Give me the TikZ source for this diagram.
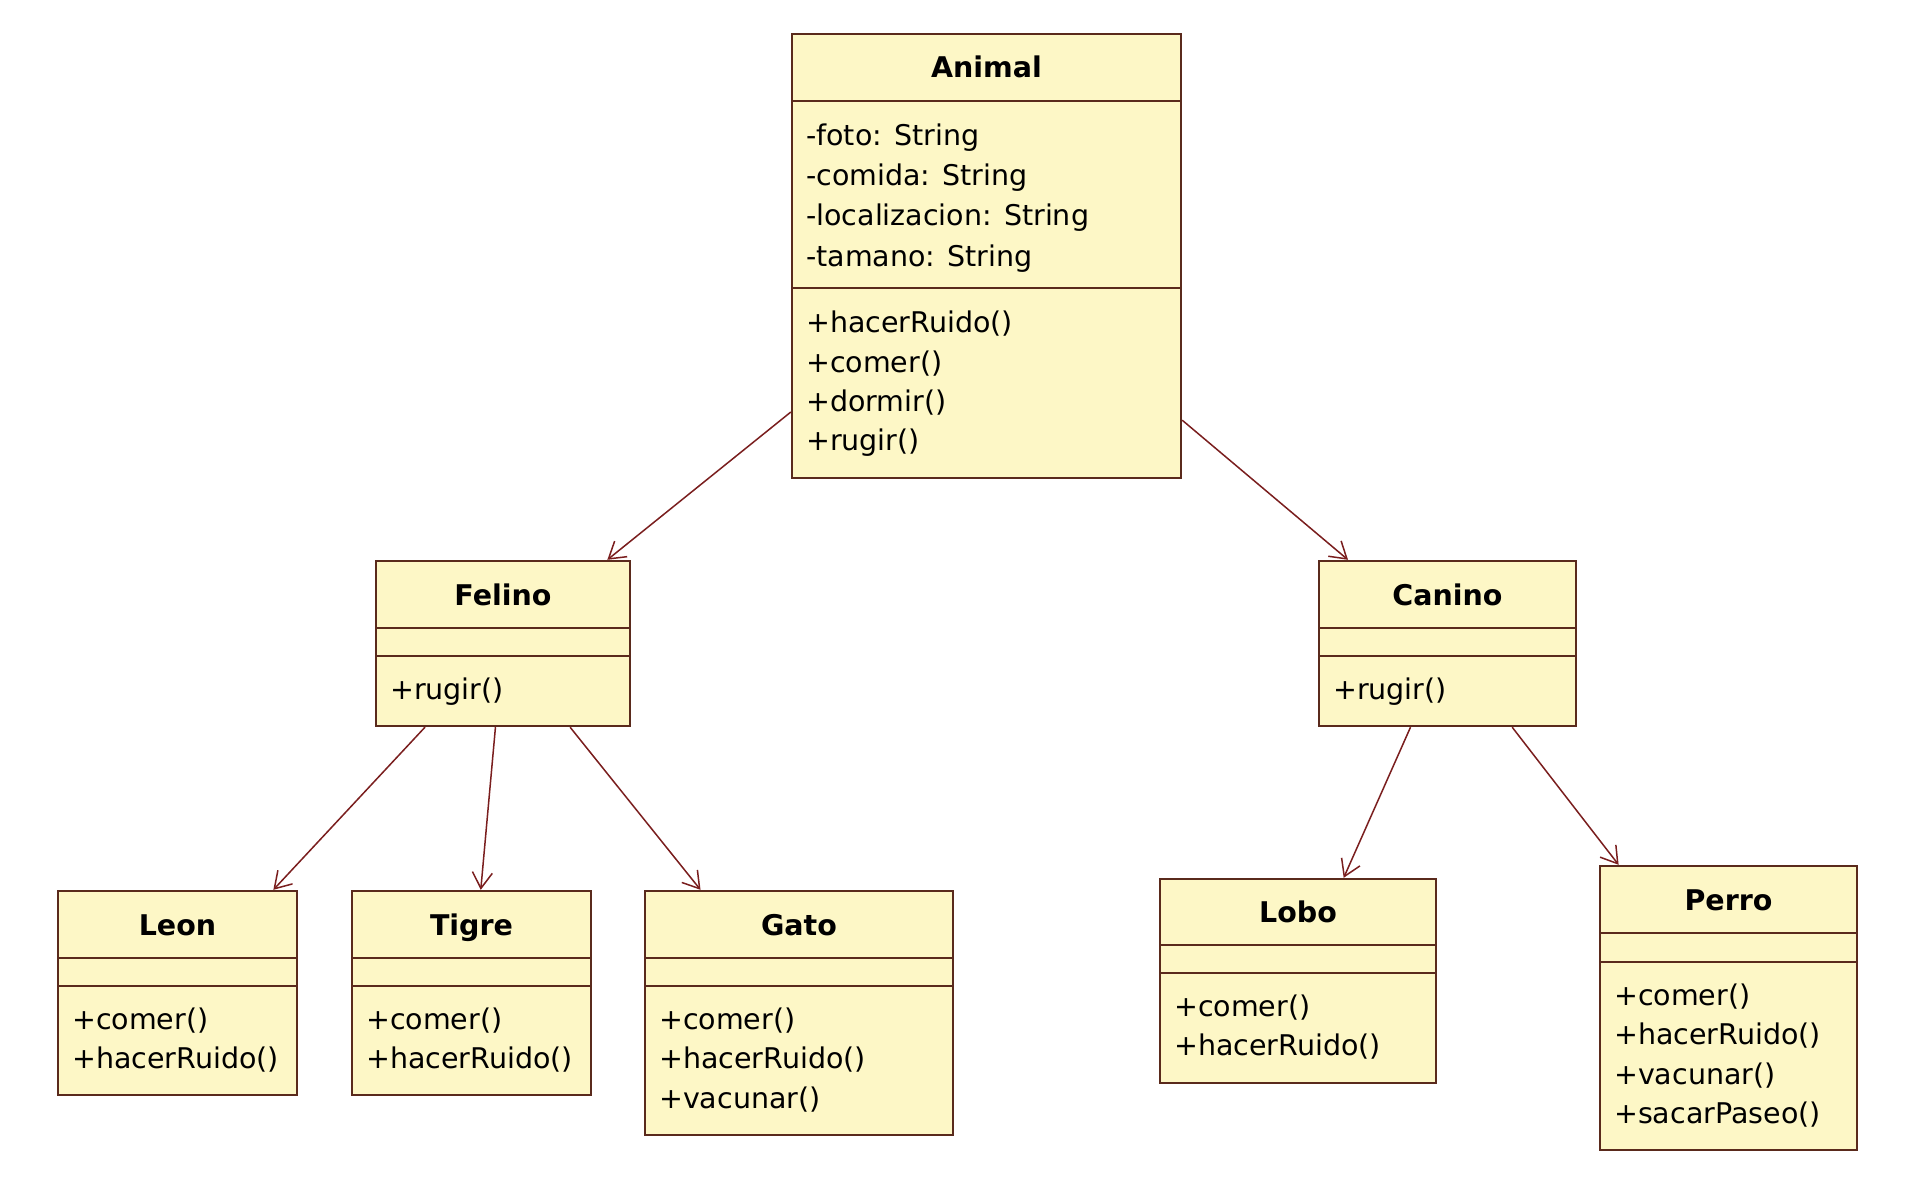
\documentclass[tikz,border=0pt]{standalone}
\usepackage{fontspec}
\setmainfont{DejaVu Sans}
\usetikzlibrary{arrows.meta}
\definecolor{classfill}{HTML}{FDF7C6}
\definecolor{classline}{HTML}{5A2A1C}
\definecolor{arrowc}{HTML}{7A1E1E}
\tikzset{
  classbox/.style={draw=classline, fill=classfill, line width=2.4pt, inner sep=0pt, rectangle},
  sepline/.style={draw=classline, line width=2.4pt},
  ctitle/.style={anchor=base, inner sep=0pt, font=\fontsize{28.5}{34}\selectfont\bfseries},
  mem/.style={anchor=base west, inner sep=0pt, font=\fontsize{28.5}{34}\selectfont},
  dep/.style={draw=arrowc, line width=1.5pt, -{Straight Barb[length=16pt,width=20pt,line width=1.5pt]}}
}
\begin{document}
\begin{tikzpicture}[x=1pt,y=-1pt]
\path[use as bounding box, fill=white] (0,0) rectangle (1908,1190);

% Animal
\node[classbox, minimum width=389pt, minimum height=444pt] (animal) at (986.5,256) {};
\draw[sepline] (792,101) -- (1181,101);
\draw[sepline] (792,288) -- (1181,288);
\node[ctitle] (animal-t) at (986.5,78) {Animal};
\node[mem] (animal-a1) at (806,146) {-foto: String};
\node[mem] (animal-a2) at (806,186) {-comida: String};
\node[mem] (animal-a3) at (806,226) {-localizacion: String};
\node[mem] (animal-a4) at (806,266) {-tamano: String};
\node[mem] (animal-m1) at (806,332) {+hacerRuido()};
\node[mem] (animal-m2) at (806,372) {+comer()};
\node[mem] (animal-m3) at (806,411) {+dormir()};
\node[mem] (animal-m4) at (806,450) {+rugir()};

% Felino
\node[classbox, minimum width=254pt, minimum height=165pt] (felino) at (503,643.5) {};
\draw[sepline] (376,628) -- (630,628);
\draw[sepline] (376,656) -- (630,656);
\node[ctitle] (felino-t) at (503,605) {Felino};
\node[mem] (felino-m1) at (390,699) {+rugir()};

% Canino
\node[classbox, minimum width=257pt, minimum height=165pt] (canino) at (1447.5,643.5) {};
\draw[sepline] (1319,628) -- (1576,628);
\draw[sepline] (1319,656) -- (1576,656);
\node[ctitle] (canino-t) at (1447.5,605) {Canino};
\node[mem] (canino-m1) at (1333,699) {+rugir()};

% Leon
\node[classbox, minimum width=239pt, minimum height=204pt] (leon) at (177.5,993) {};
\draw[sepline] (58,958) -- (297,958);
\draw[sepline] (58,986) -- (297,986);
\node[ctitle] (leon-t) at (177.5,935) {Leon};
\node[mem] (leon-m1) at (72,1029) {+comer()};
\node[mem] (leon-m2) at (72,1068.5) {+hacerRuido()};

% Tigre
\node[classbox, minimum width=239pt, minimum height=204pt] (tigre) at (471.5,993) {};
\draw[sepline] (352,958) -- (591,958);
\draw[sepline] (352,986) -- (591,986);
\node[ctitle] (tigre-t) at (471.5,935) {Tigre};
\node[mem] (tigre-m1) at (366,1029) {+comer()};
\node[mem] (tigre-m2) at (366,1068.5) {+hacerRuido()};

% Gato
\node[classbox, minimum width=308pt, minimum height=244pt] (gato) at (799,1013) {};
\draw[sepline] (645,958) -- (953,958);
\draw[sepline] (645,986) -- (953,986);
\node[ctitle] (gato-t) at (799,935) {Gato};
\node[mem] (gato-m1) at (659,1029) {+comer()};
\node[mem] (gato-m2) at (659,1068.5) {+hacerRuido()};
\node[mem] (gato-m3) at (659,1108) {+vacunar()};

% Lobo
\node[classbox, minimum width=276pt, minimum height=204pt] (lobo) at (1298,981) {};
\draw[sepline] (1160,945) -- (1436,945);
\draw[sepline] (1160,973) -- (1436,973);
\node[ctitle] (lobo-t) at (1298,922) {Lobo};
\node[mem] (lobo-m1) at (1174,1016) {+comer()};
\node[mem] (lobo-m2) at (1174,1055.5) {+hacerRuido()};

% Perro
\node[classbox, minimum width=257pt, minimum height=284pt] (perro) at (1728.5,1008) {};
\draw[sepline] (1600,933) -- (1857,933);
\draw[sepline] (1600,962) -- (1857,962);
\node[ctitle] (perro-t) at (1728.5,910) {Perro};
\node[mem] (perro-m1) at (1614,1005) {+comer()};
\node[mem] (perro-m2) at (1614,1044.5) {+hacerRuido()};
\node[mem] (perro-m3) at (1614,1084) {+vacunar()};
\node[mem] (perro-m4) at (1614,1123.5) {+sacarPaseo()};

% connectors
\draw[dep] (animal) -- (felino);
\draw[dep] (animal) -- (canino);
\draw[dep] (felino) -- (leon);
\draw[dep] (felino) -- (tigre);
\draw[dep] (felino) -- (gato);
\draw[dep] (canino) -- (lobo);
\draw[dep] (canino) -- (perro);
\end{tikzpicture}
\end{document}
